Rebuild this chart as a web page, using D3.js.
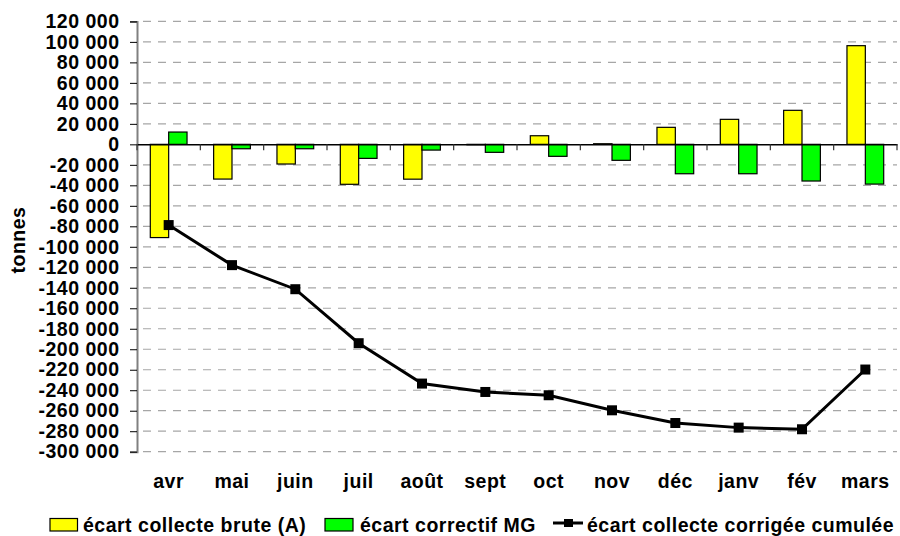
<!DOCTYPE html>
<html><head><meta charset="utf-8">
<script src="https://cdn.jsdelivr.net/npm/d3@7"></script>
<style>
html,body{margin:0;padding:0;background:#fff;}
text{font-family:"Liberation Sans",Arial,sans-serif;font-weight:bold;fill:#000;letter-spacing:0.5px;}
</style></head>
<body><svg id="c" width="900" height="536"></svg>
<script>
const categories = ["avr","mai","juin","juil","août","sept","oct","nov","déc","janv","fév","mars"];
const brute = [-91000,-33900,-19200,-39000,-34000,-400,8400,600,16600,24400,33200,96300];
const correctif = [12000,-4300,-4300,-13700,-5600,-7800,-11700,-15600,-28700,-28700,-35800,-38800];
const cumulee = [-78800,-117900,-141400,-194100,-233500,-241700,-244900,-259600,-272000,-276500,-278100,-219800];
const yTicks = d3.range(-300000, 120001, 20000);
const seriesNames = ["écart collecte brute (A)","écart correctif MG","écart collecte corrigée cumulée"];

const svg = d3.select("#c");
const pLeft = 137, pRight = 897, pTop = 21.4, pBottom = 451.7;
const x = d3.scaleBand().domain(categories).range([pLeft, pRight]).paddingInner(0.42).paddingOuter(0.21);
const xc = d3.scalePoint().domain(categories).range([pLeft, pRight]).padding(0.5);
const y = d3.scaleLinear().domain([-300000, 120000]).range([pBottom, pTop]);
const fmt = v => d3.format(",")(v).replace(/,/g, " ").replace("−", "-");

// gridlines
svg.append("g").selectAll("line").data(yTicks.filter(v => v !== 0)).join("line")
  .attr("x1", pLeft + 6).attr("x2", pRight).attr("y1", d => y(d)).attr("y2", d => y(d))
  .attr("stroke", "#a6a6a6").attr("stroke-width", 1.2).attr("stroke-dasharray", "8,7");

// y axis
const ya = svg.append("g").attr("transform", `translate(${pLeft},0)`)
  .call(d3.axisLeft(y).tickValues(yTicks).tickFormat(fmt).tickSize(7).tickPadding(10.5));
ya.select(".domain").attr("stroke", "#808080").attr("stroke-width", 2);
ya.selectAll(".tick line").attr("stroke", "#000");
ya.selectAll("text").style("font-size", "19.5px").style("font-family", "'Liberation Sans',Arial,sans-serif").style("font-weight", "bold").attr("fill", "#000");

// bars
const bw = x.bandwidth() / 2;
svg.append("g").selectAll("rect").data(brute).join("rect")
  .attr("x", (d, i) => x(categories[i])).attr("width", bw)
  .attr("y", d => y(Math.max(0, d))).attr("height", d => Math.abs(y(d) - y(0)))
  .attr("fill", "#ffff00").attr("stroke", "#000").attr("stroke-width", 1.2);
svg.append("g").selectAll("rect").data(correctif).join("rect")
  .attr("x", (d, i) => x(categories[i]) + bw).attr("width", bw)
  .attr("y", d => y(Math.max(0, d))).attr("height", d => Math.abs(y(d) - y(0)))
  .attr("fill", "#00ff00").attr("stroke", "#000").attr("stroke-width", 1.2);

// zero line and category ticks
const xa = svg.append("g").attr("transform", `translate(0,${y(0)})`)
  .call(d3.axisBottom(x).tickSize(0).tickFormat(""));
xa.select(".domain").attr("stroke", "#000").attr("stroke-width", 1.5);
svg.append("g").selectAll("line").data(d3.range(categories.length + 1)).join("line")
  .attr("x1", i => pLeft + i * (pRight - pLeft) / categories.length)
  .attr("x2", i => pLeft + i * (pRight - pLeft) / categories.length)
  .attr("y1", y(0)).attr("y2", y(0) + 6).attr("stroke", "#333").attr("stroke-width", 1.2);

// category labels
svg.append("g").selectAll("text").data(categories).join("text")
  .attr("x", d => xc(d)).attr("y", 488).attr("text-anchor", "middle")
  .style("font-size", "19.5px").text(d => d);

// line
const line = d3.line().x((d, i) => xc(categories[i])).y(d => y(d));
svg.append("path").datum(cumulee).attr("d", line).attr("fill", "none")
  .attr("stroke", "#000").attr("stroke-width", 3);
svg.append("g").selectAll("rect").data(cumulee).join("rect")
  .attr("x", (d, i) => xc(categories[i]) - 5).attr("y", d => y(d) - 5)
  .attr("width", 10).attr("height", 10).attr("fill", "#000");

// y title
svg.append("text").attr("transform", "translate(25,240) rotate(-90)")
  .attr("text-anchor", "middle").style("font-size", "19.5px").text("tonnes");

// legend
const lg = svg.append("g");
lg.append("rect").attr("x", 50).attr("y", 518.5).attr("width", 27.5).attr("height", 12.5).attr("fill", "#ffff00").attr("stroke", "#000").attr("stroke-width", 1.2);
lg.append("text").attr("x", 83).attr("y", 531.5).style("font-size", "19.5px").text(seriesNames[0]);
lg.append("rect").attr("x", 325).attr("y", 518.5).attr("width", 28).attr("height", 12.5).attr("fill", "#00ff00").attr("stroke", "#000").attr("stroke-width", 1.2);
lg.append("text").attr("x", 360).attr("y", 531.5).style("font-size", "19.5px").text(seriesNames[1]);
lg.append("line").attr("x1", 553).attr("x2", 583).attr("y1", 523).attr("y2", 523).attr("stroke", "#000").attr("stroke-width", 3);
lg.append("rect").attr("x", 564).attr("y", 519).attr("width", 9).attr("height", 8).attr("fill", "#000");
lg.append("text").attr("x", 587).attr("y", 531.5).style("font-size", "19.5px").text(seriesNames[2]);
</script></body></html>
